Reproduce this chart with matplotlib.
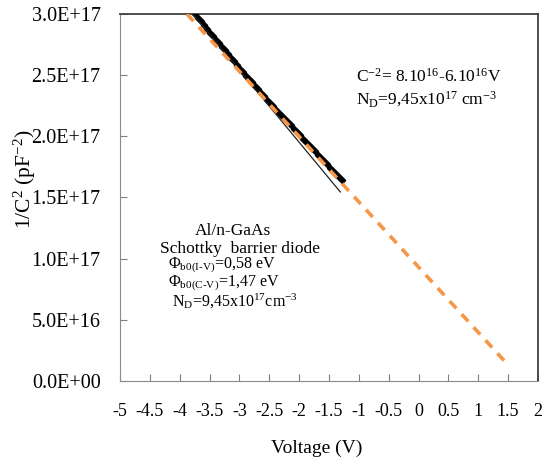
import matplotlib
matplotlib.use("Agg")
import matplotlib.pyplot as plt
from matplotlib.ticker import FuncFormatter

plt.rcParams["font.family"] = ["Liberation Serif", "DejaVu Serif"]
plt.rcParams["mathtext.fontset"] = "custom"
plt.rcParams["mathtext.rm"] = "Liberation Serif"
plt.rcParams["mathtext.it"] = "Liberation Serif:italic"

# measured 1/C^2 data (pF^-2) vs voltage
voltage = [-3.74, -3.69, -3.64, -3.59, -3.54, -3.49, -3.44, -3.39, -3.34, -3.29,
           -3.24, -3.19, -3.14, -3.09, -3.04, -2.99, -2.94, -2.89, -2.84, -2.79,
           -2.74, -2.69, -2.64, -2.59, -2.54, -2.49, -2.44, -2.39, -2.34, -2.29,
           -2.24, -2.19, -2.14, -2.09, -2.04, -1.99, -1.94, -1.89, -1.84, -1.79,
           -1.74, -1.69, -1.64, -1.59, -1.54, -1.49, -1.44, -1.39, -1.34, -1.29]
inv_c2 = [3.000, 2.968, 2.942, 2.909, 2.881, 2.848, 2.822, 2.789, 2.762, 2.730,
          2.704, 2.671, 2.643, 2.613, 2.586, 2.553, 2.527, 2.497, 2.470, 2.440,
          2.412, 2.383, 2.357, 2.328, 2.300, 2.272, 2.247, 2.219, 2.194, 2.166,
          2.141, 2.114, 2.089, 2.061, 2.036, 2.009, 1.982, 1.957, 1.929, 1.904,
          1.877, 1.851, 1.824, 1.798, 1.772, 1.745, 1.719, 1.693, 1.666, 1.640]
inv_c2 = [v * 1e17 for v in inv_c2]

# thin linear fit and extrapolated (dashed) line
fit_v = [-3.78, -1.31]
fit_y = [3.0e17, 1.545e17]
extra_v = [-3.88, 1.5]
extra_y = [3.0e17, 1.31e16]

xticks = [-5, -4.5, -4, -3.5, -3, -2.5, -2, -1.5, -1, -0.5, 0, 0.5, 1, 1.5, 2]
xlabels = ["-5", "-4.5", "-4", "-3.5", "-3", "-2.5", "-2", "-1.5", "-1", "-0.5",
           "0", "0.5", "1", "1.5", "2"]

fig = plt.figure(figsize=(5.42, 4.57), dpi=100)
ax = fig.add_axes([0.2214, 0.1663, 0.7712, 0.8031])

ax.plot(voltage, inv_c2, linestyle="none", marker="D", markersize=3.2,
        color="black", zorder=3)
ax.plot(fit_v, fit_y, color="#222222", linewidth=0.9, zorder=4)
ax.plot(extra_v, extra_y, color="#F79646", linewidth=2.6, dashes=(2.7, 2.2), zorder=5)

ax.set_xlim(-5, 2)
ax.set_ylim(0, 3.0e17)
ax.set_xticks(xticks)
ax.set_xticklabels(xlabels)
ax.set_yticks([0, 5e16, 1e17, 1.5e17, 2e17, 2.5e17, 3e17])
ax.yaxis.set_major_formatter(FuncFormatter(lambda v, p: f"{v:.1E}"))
ax.tick_params(direction="in", length=5, colors="#808080", labelcolor="black")
ax.tick_params(axis="x", labelsize=13, pad=16)
ax.tick_params(axis="y", labelsize=14.5, pad=14)

for s in ["left", "bottom"]:
    ax.spines[s].set_color("#8a8a8a")
for s in ["top", "right"]:
    ax.spines[s].set_color("#404040")
    ax.spines[s].set_linewidth(1.3)

ax.set_xlabel("Voltage (V)", fontsize=14)
ax.xaxis.set_label_coords(0.47, -0.16)
ax.set_ylabel(r"1/C$^2$ (pF$^{-2}$)", fontsize=15.5)
ax.yaxis.set_label_coords(-0.195, 0.55)

ax.text(0.565, 0.83, r"C$^{-2}$= 8.10$^{16}$-6.10$^{16}$V", transform=ax.transAxes,
        fontsize=12.5, ha="left", va="center")
ax.text(0.565, 0.768, r"N$_\mathrm{D}$=9,45x10$^{17}$ cm$^{-3}$", transform=ax.transAxes,
        fontsize=12.5, ha="left", va="center")

ax.text(0.27, 0.408, "Al/n-GaAs", transform=ax.transAxes, fontsize=12.5,
        ha="center", va="center")
ax.text(0.095, 0.36, "Schottky  barrier diode", transform=ax.transAxes, fontsize=12.5,
        ha="left", va="center")
ax.text(0.115, 0.314, r"$\Phi_{\mathrm{b0(I\text{-}V)}}$=0,58 eV", transform=ax.transAxes,
        fontsize=11.5, ha="left", va="center")
ax.text(0.115, 0.266, r"$\Phi_{\mathrm{b0(C\text{-}V)}}$=1,47 eV", transform=ax.transAxes,
        fontsize=11.5, ha="left", va="center")
ax.text(0.125, 0.218, r"N$_\mathrm{D}$=9,45x10$^{17}$cm$^{-3}$", transform=ax.transAxes,
        fontsize=11.5, ha="left", va="center")

fig.savefig("out.png", dpi=100)
